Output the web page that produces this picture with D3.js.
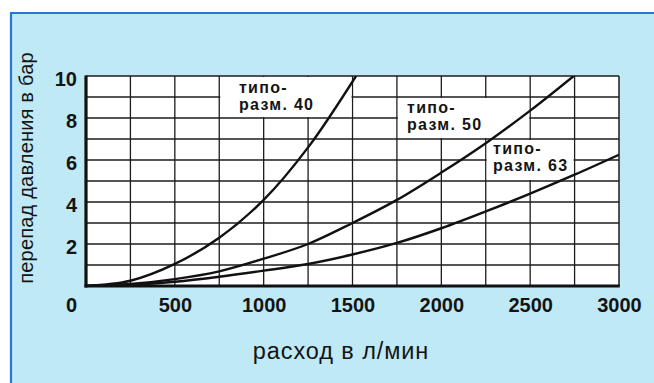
<!DOCTYPE html>
<html>
<head>
<meta charset="utf-8">
<script src="https://cdn.jsdelivr.net/npm/d3@7"></script>
<style>
  html, body { margin: 0; padding: 0; background: #ffffff; }
  svg { display: block; }
  text { font-family: "Liberation Sans", Arial, Helvetica, sans-serif; fill: #141414; }
</style>
</head>
<body>
<svg id="chart" width="654" height="383"></svg>
<script>
// Flow rate (l/min) vs. pressure drop (bar) for three filter sizes
const xTicks = [0, 500, 1000, 1500, 2000, 2500, 3000];
const yTicks = [2, 4, 6, 8, 10];

const flow40 = [0, 250, 500, 750, 1000, 1250, 1520];
const dp40   = [0, 0.25, 1.05, 2.3, 4.1, 6.6, 10];

const flow50 = [0, 250, 500, 750, 1000, 1250, 1500, 1750, 2000, 2250, 2500, 2745];
const dp50   = [0, 0.1, 0.33, 0.7, 1.3, 2.0, 3.0, 4.1, 5.4, 6.8, 8.35, 10];

const flow63 = [0, 250, 500, 750, 1000, 1250, 1500, 1750, 2000, 2250, 2500, 2750, 3000];
const dp63   = [0, 0.05, 0.2, 0.44, 0.73, 1.05, 1.5, 2.05, 2.75, 3.55, 4.4, 5.3, 6.25];

const seriesNames = ["разм. 40", "разм. 50", "разм. 63"];
const seriesPrefix = "типо-";

const svg = d3.select("#chart");
const W = 654, H = 383;
const plot = { left: 86, right: 619, top: 76, bottom: 286 };

const x = d3.scaleLinear().domain([0, 3000]).range([plot.left, plot.right]);
const y = d3.scaleLinear().domain([0, 10]).range([plot.bottom, plot.top]);

// panel background with blue frame on top and left
svg.append("rect").attr("x", 11).attr("y", 13).attr("width", W - 11).attr("height", H - 13)
  .attr("fill", "#c0e9f6");
svg.append("line").attr("x1", 10).attr("x2", W).attr("y1", 13).attr("y2", 13)
  .attr("stroke", "#2277dd").attr("stroke-width", 2.2);
svg.append("line").attr("x1", 11).attr("x2", 11).attr("y1", 12).attr("y2", H)
  .attr("stroke", "#2277dd").attr("stroke-width", 2.2);

// plotting field
svg.append("rect").attr("x", plot.left).attr("y", plot.top)
  .attr("width", plot.right - plot.left).attr("height", plot.bottom - plot.top)
  .attr("fill", "#ffffff");

// grid: every 250 l/min and every 1 bar
const g = svg.append("g");
const gridX = d3.range(250, 3000, 250);
const gridY = d3.range(1, 10, 1);
g.selectAll("line.vx").data(gridX).join("line")
  .attr("x1", d => x(d)).attr("x2", d => x(d))
  .attr("y1", plot.top).attr("y2", plot.bottom)
  .attr("stroke", "#1c1c1c").attr("stroke-width", 1.3);
g.selectAll("line.hy").data(gridY).join("line")
  .attr("x1", plot.left).attr("x2", plot.right)
  .attr("y1", d => y(d)).attr("y2", d => y(d))
  .attr("stroke", "#1c1c1c").attr("stroke-width", 1.3);

// white fields behind the curve captions (cell aligned)
const captionCells = [
  { x0: 750, x1: 1500, y0: 8, y1: 10 },
  { x0: 1750, x1: 2500, y0: 7, y1: 9 },
  { x0: 2250, x1: 2750, y0: 5, y1: 7 }
];
svg.selectAll("rect.cap").data(captionCells).join("rect")
  .attr("x", d => x(d.x0) + 1).attr("y", d => y(d.y1) + 1)
  .attr("width", d => x(d.x1) - x(d.x0) - 2)
  .attr("height", d => y(d.y0) - y(d.y1) - 2)
  .attr("fill", "#ffffff");

// frame: thin top/right, heavy left/bottom axes
svg.append("line").attr("x1", plot.left).attr("x2", plot.right).attr("y1", plot.top).attr("y2", plot.top)
  .attr("stroke", "#1c1c1c").attr("stroke-width", 1.5);
svg.append("line").attr("x1", plot.right).attr("x2", plot.right).attr("y1", plot.top).attr("y2", plot.bottom)
  .attr("stroke", "#1c1c1c").attr("stroke-width", 1.5);
svg.append("line").attr("x1", plot.left).attr("x2", plot.left).attr("y1", plot.top - 0.5).attr("y2", plot.bottom + 1.5)
  .attr("stroke", "#111").attr("stroke-width", 3.2);
svg.append("line").attr("x1", plot.left - 1.5).attr("x2", plot.right + 0.8).attr("y1", plot.bottom).attr("y2", plot.bottom)
  .attr("stroke", "#111").attr("stroke-width", 3.2);

// curves
svg.append("clipPath").attr("id", "clip").append("rect")
  .attr("x", plot.left).attr("y", plot.top)
  .attr("width", plot.right - plot.left).attr("height", plot.bottom - plot.top);

const line = d3.line().x(d => x(d[0])).y(d => y(d[1])).curve(d3.curveCatmullRom.alpha(0.5));
const series = [
  d3.zip(flow40, dp40),
  d3.zip(flow50, dp50),
  d3.zip(flow63, dp63)
];
svg.append("g").attr("clip-path", "url(#clip)")
  .selectAll("path").data(series).join("path")
  .attr("d", line)
  .attr("fill", "none").attr("stroke", "#111").attr("stroke-width", 2.4)
  .attr("stroke-linejoin", "round");

// captions, two lines each
const captionAnchors = [
  { fx: 861, p: 9.14 },
  { fx: 1807, p: 8.2 },
  { fx: 2291, p: 6.22 }
];
const capG = svg.append("g").selectAll("g").data(captionAnchors).join("g")
  .attr("transform", d => `translate(${x(d.fx)},${y(d.p)})`);
capG.append("text").attr("y", -1)
  .attr("font-size", 16).attr("font-weight", "bold").attr("letter-spacing", 1.3)
  .text(seriesPrefix);
capG.append("text").attr("y", 16)
  .attr("font-size", 16).attr("font-weight", "bold").attr("letter-spacing", 1.3)
  .text((d, i) => seriesNames[i]);

// y tick labels
const yAxis = d3.axisLeft(y).tickValues(yTicks).tickSize(0).tickPadding(0).tickFormat(d3.format("d"));
const ya = svg.append("g").attr("transform", `translate(77,0)`).call(yAxis);
ya.select(".domain").remove();
ya.selectAll("text").attr("font-size", 20).attr("font-weight", "bold")
  .attr("font-family", "Liberation Sans, Arial, sans-serif").attr("fill", "#141414")
  .attr("dy", "0.42em").attr("transform", "translate(0,1.5)");

// x tick labels
const xAxis = d3.axisBottom(x).tickValues(xTicks).tickSize(0).tickPadding(0).tickFormat(d3.format("d"));
const xa = svg.append("g").attr("transform", `translate(0,298)`).call(xAxis);
xa.select(".domain").remove();
xa.selectAll("text").attr("font-size", 20).attr("font-weight", "bold")
  .attr("font-family", "Liberation Sans, Arial, sans-serif").attr("fill", "#141414")
  .attr("dy", "0.72em")
  .attr("dx", d => d === 0 ? -15 : 0);

// axis titles
svg.append("text").attr("transform", "translate(33,168) rotate(-90)")
  .attr("text-anchor", "middle").attr("font-size", 20).attr("letter-spacing", 0.2)
  .text("перепад давления в бар");
svg.append("text").attr("x", 341).attr("y", 359)
  .attr("text-anchor", "middle").attr("font-size", 23.5).attr("letter-spacing", 0.9)
  .text("расход в л/мин");
</script>
</body>
</html>
